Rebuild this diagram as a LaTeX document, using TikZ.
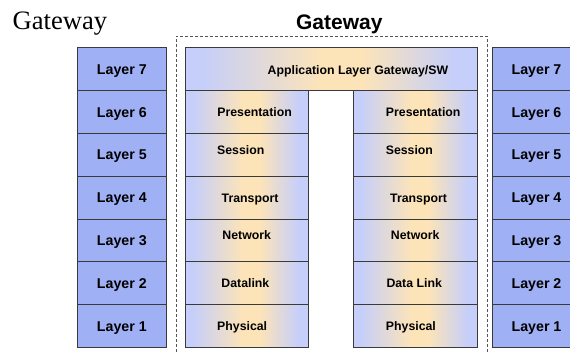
\documentclass[tikz,border=0pt]{standalone}
\usepackage{fontspec}
\setmainfont{Liberation Sans}
\newfontfamily\serifgw{Liberation Serif}
\definecolor{layerblue}{HTML}{9FB0F5}
\definecolor{stackblue}{HTML}{C6CFF9}
\definecolor{stackorange}{HTML}{FDE4B8}
\definecolor{edgegray}{HTML}{3A3A3A}
\definecolor{framegray}{HTML}{555555}
% blue at the edges, warm orange just right of the middle of each stack cell
\pgfdeclarehorizontalshading{gwshade}{100bp}{color(0bp)=(stackblue); color(28bp)=(stackblue); color(48.5bp)=(stackorange); color(55bp)=(stackorange); color(71bp)=(stackblue); color(100bp)=(stackblue)}
\begin{document}
\begin{tikzpicture}[x=1pt,y=-1pt,
  layercell/.style={draw=edgegray, line width=0.8pt, fill=layerblue,
    minimum width=88.8pt, minimum height=42.8pt, inner sep=0pt, anchor=north west,
    font=\bfseries\fontsize{14.2}{16}\selectfont, text height=10.2pt, text depth=0pt},
  stackcell/.style={draw=edgegray, line width=0.8pt, shading=gwshade,
    minimum height=42.8pt, inner sep=0pt, anchor=north west},
  mlab/.style={font=\bfseries\fontsize{12.3}{14}\selectfont, text height=8.8pt,
    text depth=0pt, inner sep=0pt},
  gwframe/.style={draw=framegray, line width=0.8pt, dash pattern=on 3pt off 2pt,
    minimum width=311pt, minimum height=330pt, inner sep=0pt, anchor=north west}]
\useasboundingbox (0,0) rectangle (570,351);
\begin{scope}
\clip (0,0) rectangle (570,351);

% dashed outline of the gateway
\node[gwframe] (frame) at (175.5,36) {};

% end-host protocol layers
\foreach \i in {1,...,7}{
  \node[layercell] (L\i) at (77,{47.3+(7-\i)*42.8}) {Layer \i};
  \node[layercell] (R\i) at (491.7,{47.3+(7-\i)*42.8}) {Layer \i};
}

% gateway: shared application layer and two lower stacks
\node[stackcell, minimum width=292pt] (app) at (185,47.3) {};
\foreach \i in {1,...,6}{
  \node[stackcell, minimum width=123pt] (cl\i) at (185,{47.3+(7-\i)*42.8}) {};
  \node[stackcell, minimum width=124pt] (cr\i) at (353,{47.3+(7-\i)*42.8}) {};
}
\end{scope}

% titles
\node[anchor=base west, inner sep=0pt, font=\serifgw\fontsize{26.6}{30}\selectfont]
  (sidetitle) at (12.5,29.5) {Gateway};
\node[anchor=base, inner sep=0pt, font=\bfseries\fontsize{21}{24}\selectfont]
  (gwtitle) at (339.3,29.3) {Gateway};

% stack labels
\node[mlab] (tapp) at ([shift={(26.5,1)}]app.center) {Application Layer Gateway/SW};

\node[mlab] (tl6) at ([shift={(7.7,0.5)}]cl6.center) {Presentation};
\node[mlab] (tl5) at ([shift={(-6.2,-4.3)}]cl5.center) {Session};
\node[mlab] (tl4) at ([shift={(3.2,0.6)}]cl4.center) {Transport};
\node[mlab] (tl3) at ([shift={(-0.2,-4.9)}]cl3.center) {Network};
\node[mlab] (tl2) at ([shift={(-1.5,0)}]cl2.center) {Datalink};
\node[mlab] (tl1) at ([shift={(-4.7,0.5)}]cl1.center) {Physical};

\node[mlab] (tr6) at ([shift={(7.8,0.5)}]cr6.center) {Presentation};
\node[mlab] (tr5) at ([shift={(-6,-4.3)}]cr5.center) {Session};
\node[mlab] (tr4) at ([shift={(3.2,0.6)}]cr4.center) {Transport};
\node[mlab] (tr3) at ([shift={(-0.2,-4.9)}]cr3.center) {Network};
\node[mlab] (tr2) at ([shift={(-1.2,0)}]cr2.center) {Data Link};
\node[mlab] (tr1) at ([shift={(-4.5,0.5)}]cr1.center) {Physical};
\end{tikzpicture}
\end{document}
